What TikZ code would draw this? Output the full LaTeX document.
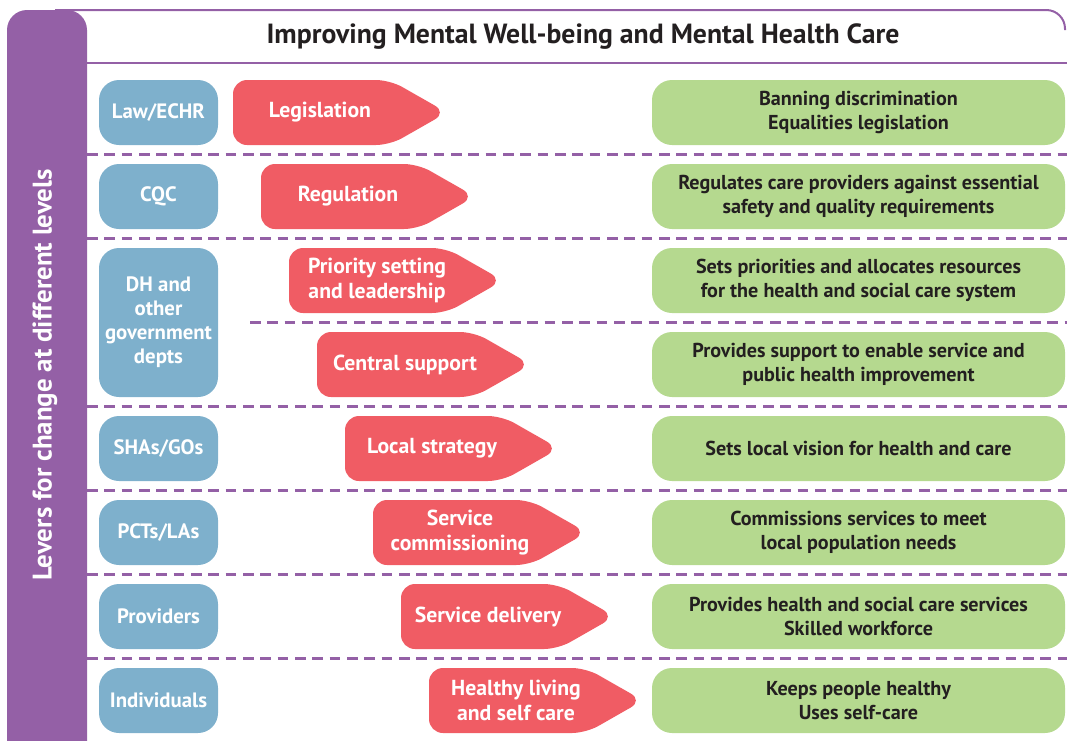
\documentclass[tikz,border=0pt]{standalone}
\usepackage{fontspec}
\setmainfont{PT Sans}
\definecolor{leverpurple}{RGB}{148,96,166}
\definecolor{levelblue}{RGB}{126,176,204}
\definecolor{leverred}{RGB}{240,92,100}
\definecolor{effectgreen}{RGB}{181,217,143}
\definecolor{darktext}{RGB}{35,31,32}
\begin{document}
\begin{tikzpicture}[x=0.75pt, y=-0.75pt,
  level/.style={fill=levelblue, text=white, rounded corners=15pt, inner sep=0pt,
    minimum width=89.25pt, minimum height=48.75pt, align=center,
    font=\bfseries\fontsize{15.6}{18}\selectfont},
  effect/.style={fill=effectgreen, text=darktext, rounded corners=15pt, inner sep=0pt,
    minimum width=309.75pt, minimum height=48.75pt, align=center,
    font=\bfseries\fontsize{15.1}{18}\selectfont},
  lever/.style={fill=leverred, rounded corners=10.5pt},
  levertext/.style={text=white, inner sep=0pt, align=center,
    font=\bfseries\fontsize{16.3}{18.8}\selectfont},
  divider/.style={leverpurple, line width=1.7pt, dash pattern=on 8pt off 5pt}]
\useasboundingbox (0,0) rectangle (1067,740);
%
% frame and side bar
\draw[leverpurple, line width=1.5pt, rounded corners=14pt] (55,10) -- (1065,10) -- (1065,30);
\draw[leverpurple, line width=1.5pt] (87,63) -- (1067,63);
\fill[leverpurple, rounded corners=15pt] (7,10) rectangle (87,770);
\node[text=white, rotate=90, font=\bfseries\fontsize{20.2}{22}\selectfont] (levers) at (45,375)
  {Levers for change at different levels};
\node[text=darktext, font=\bfseries\fontsize{20.8}{22}\selectfont] (title) at (583,37)
  {Improving Mental Well-being and Mental Health Care};
%
% row dividers
\draw[divider] (87,154.5) -- (1067,154.5);
\draw[divider] (87,238.5) -- (1067,238.5);
\draw[divider] (250,322.5) -- (1067,322.5);
\draw[divider] (87,406.5) -- (1067,406.5);
\draw[divider] (87,490.5) -- (1067,490.5);
\draw[divider] (87,574.5) -- (1067,574.5);
\draw[divider] (87,658.5) -- (1067,658.5);
%
% levels
\node[level] (law) at (158.5,112.5) {Law/ECHR};
\node[level] (cqc) at (158.5,196.5) {CQC};
\node[level, minimum height=111.75pt] (dh) at (158.5,322.5) {DH and\\other\\government\\depts};
\node[level] (sha) at (158.5,448.5) {SHAs/GOs};
\node[level] (pct) at (158.5,532.5) {PCTs/LAs};
\node[level] (prov) at (158.5,616.5) {Providers};
\node[level] (indiv) at (158.5,700.5) {Individuals};
%
% levers
\fill[lever] (233,112.5) |- (390,80) -- (447,112.5) -- (390,145) -| cycle;
\node[levertext] (legis) at (320,112.5) {Legislation};
%
\fill[lever] (261,196.5) |- (418,164) -- (475,196.5) -- (418,229) -| cycle;
\node[levertext] (regul) at (348,196.5) {Regulation};
%
\fill[lever] (289,280.5) |- (446,248) -- (503,280.5) -- (446,313) -| cycle;
\node[levertext] (prio) at (377,280.5) {Priority setting\\and leadership};
%
\fill[lever] (317,364.5) |- (474,332) -- (531,364.5) -- (474,397) -| cycle;
\node[levertext] (central) at (405,364.5) {Central support};
%
\fill[lever] (345,448.5) |- (502,416) -- (559,448.5) -- (502,481) -| cycle;
\node[levertext] (localstr) at (432,448.5) {Local strategy};
%
\fill[lever] (373,532.5) |- (530,500) -- (587,532.5) -- (530,565) -| cycle;
\node[levertext] (commis) at (460,532.5) {Service\\commissioning};
%
\fill[lever] (401,616.5) |- (558,584) -- (615,616.5) -- (558,649) -| cycle;
\node[levertext] (delivery) at (488,616.5) {Service delivery};
%
\fill[lever] (429,700.5) |- (586,668) -- (643,700.5) -- (586,733) -| cycle;
\node[levertext] (healthy) at (516,700.5) {Healthy living\\and self care};
%
% effects
\node[effect] (banning) at (858.5,112.5) {Banning discrimination\\Equalities legislation};
\node[effect] (regcare) at (858.5,196.5) {Regulates care providers against essential\\safety and quality requirements};
\node[effect] (allocate) at (858.5,280.5) {Sets priorities and allocates resources\\for the health and social care system};
\node[effect] (support) at (858.5,364.5) {Provides support to enable service and\\public health improvement};
\node[effect] (vision) at (858.5,448.5) {Sets local vision for health and care};
\node[effect] (commission) at (858.5,532.5) {Commissions services to meet\\local population needs};
\node[effect] (services) at (858.5,616.5) {Provides health and social care services\\Skilled workforce};
\node[effect] (keeps) at (858.5,700.5) {Keeps people healthy\\Uses self-care};
%
\end{tikzpicture}
\end{document}
